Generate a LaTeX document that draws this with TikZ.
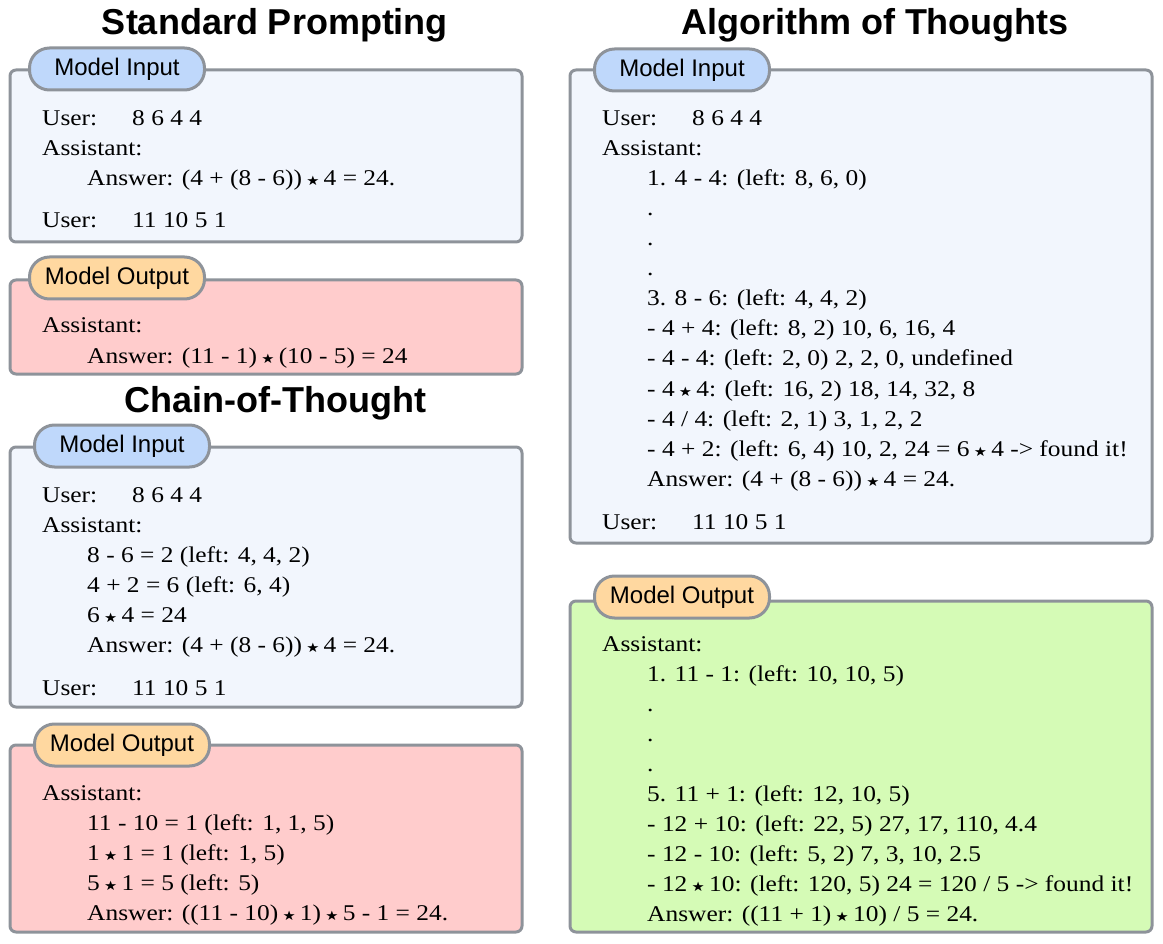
\documentclass[tikz,border=0pt]{standalone}
\usepackage{fontspec}
\setmainfont{Liberation Serif}
\setsansfont{Liberation Sans}
\newfontfamily\symf{DejaVu Sans}
\newcounter{tl}
\begin{document}
\begin{tikzpicture}[x=1pt,y=-1pt,
  box/.style={draw=bordc,line width=3pt,rounded corners=6pt},
  pill/.style={draw=bordc,line width=3pt,rounded corners=20pt,minimum width=175pt,minimum height=42pt,font=\sffamily\fontsize{24}{24}\selectfont,inner sep=0pt},
  ttl/.style={font=\sffamily\bfseries\fontsize{36}{36}\selectfont},
  tx/.style={anchor=base west,inner sep=0pt,font=\fontsize{22.5}{22.5}\selectfont}]
\definecolor{bordc}{HTML}{8E939A}
\definecolor{inf}{HTML}{F2F6FD}
\definecolor{redf}{HTML}{FFCCCC}
\definecolor{grf}{HTML}{D5FBB6}
\definecolor{blp}{HTML}{BFD8FB}
\definecolor{orp}{HTML}{FFD8A0}
\newcommand{\tline}[3]{\stepcounter{tl}\node[tx,name=t\arabic{tl}] at (#1,#2) {\scalebox{1.13}[1]{#3}};}
\newcommand{\st}{\,{\symf\fontsize{13}{13}\selectfont ★}\,}
\useasboundingbox (0,0) rectangle (1163,944);
% titles
\node[ttl] (T1) at (275,25) {Standard Prompting};
\node[ttl] (T2) at (275,403) {Chain-of-Thought};
\node[ttl] (T3) at (875,25) {Algorithm of Thoughts};
% boxes
\draw[box,fill=inf] (10,70) rectangle (522,242);
\node[pill,fill=blp] (p1) at (117,69) {Model Input};
\draw[box,fill=redf] (10,280) rectangle (522,374);
\node[pill,fill=orp] (p2) at (117,278) {Model Output};
\draw[box,fill=inf] (10,447) rectangle (522,707);
\node[pill,fill=blp] (p3) at (122,446) {Model Input};
\draw[box,fill=redf] (10,745) rectangle (522,932);
\node[pill,fill=orp] (p4) at (122,745) {Model Output};
\draw[box,fill=inf] (570,70) rectangle (1152,543);
\node[pill,fill=blp] (p5) at (682,70) {Model Input};
\draw[box,fill=grf] (570,601) rectangle (1152,932);
\node[pill,fill=orp] (p6) at (682,597) {Model Output};
% standard
\tline{42}{126}{User:}\tline{132}{126}{8 6 4 4}
\tline{42}{156}{Assistant:}
\tline{87}{186}{Answer: (4 + (8 - 6))\st 4 = 24.}
\tline{42}{228}{User:}\tline{132}{228}{11 10 5 1}
\tline{42}{333}{Assistant:}
\tline{87}{363}{Answer: (11 - 1)\st(10 - 5) = 24}
% cot
\tline{42}{502}{User:}\tline{132}{502}{8 6 4 4}
\tline{42}{532}{Assistant:}
\tline{87}{562}{8 - 6 = 2 (left: 4, 4, 2)}
\tline{87}{592}{4 + 2 = 6 (left: 6, 4)}
\tline{87}{622}{6\st 4 = 24}
\tline{87}{652}{Answer: (4 + (8 - 6))\st 4 = 24.}
\tline{42}{695}{User:}\tline{132}{695}{11 10 5 1}
\tline{42}{800}{Assistant:}
\tline{87}{830}{11 - 10 = 1 (left: 1, 1, 5)}
\tline{87}{860}{1\st 1 = 1 (left: 1, 5)}
\tline{87}{890}{5\st 1 = 5 (left: 5)}
\tline{87}{920}{Answer: ((11 - 10)\st 1)\st 5 - 1 = 24.}
% aot input
\tline{602}{126}{User:}\tline{692}{126}{8 6 4 4}
\tline{602}{156}{Assistant:}
\tline{647}{186}{1. 4 - 4: (left: 8, 6, 0)}
\tline{647}{216}{.}\tline{647}{246}{.}\tline{647}{276}{.}
\tline{647}{306}{3. 8 - 6: (left: 4, 4, 2)}
\tline{647}{336}{- 4 + 4: (left: 8, 2) 10, 6, 16, 4}
\tline{647}{366}{- 4 - 4: (left: 2, 0) 2, 2, 0, undefined}
\tline{647}{396}{- 4\st 4: (left: 16, 2) 18, 14, 32, 8}
\tline{647}{426}{- 4 / 4: (left: 2, 1) 3, 1, 2, 2}
\tline{647}{456}{- 4 + 2: (left: 6, 4) 10, 2, 24 = 6\st 4 -> found it!}
\tline{647}{486}{Answer: (4 + (8 - 6))\st 4 = 24.}
\tline{602}{529}{User:}\tline{692}{529}{11 10 5 1}
% aot output
\tline{602}{651}{Assistant:}
\tline{647}{681}{1. 11 - 1: (left: 10, 10, 5)}
\tline{647}{711}{.}\tline{647}{741}{.}\tline{647}{771}{.}
\tline{647}{801}{5. 11 + 1: (left: 12, 10, 5)}
\tline{647}{831}{- 12 + 10: (left: 22, 5) 27, 17, 110, 4.4}
\tline{647}{861}{- 12 - 10: (left: 5, 2) 7, 3, 10, 2.5}
\tline{647}{891}{- 12\st 10: (left: 120, 5) 24 = 120 / 5 -> found it!}
\tline{647}{921}{Answer: ((11 + 1)\st 10) / 5 = 24.}
\end{tikzpicture}
\end{document}
